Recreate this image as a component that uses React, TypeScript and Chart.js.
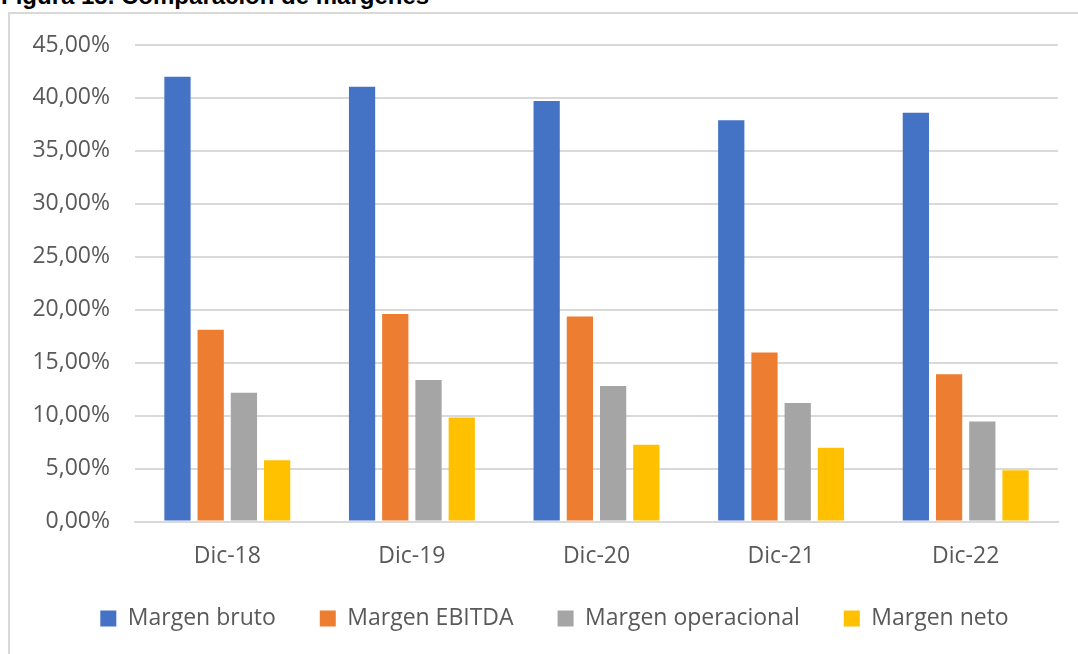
import React, { useEffect, useRef } from "react";
import { Chart, registerables } from "chart.js";

Chart.register(...registerables);

const categories = ["Dic-18", "Dic-19", "Dic-20", "Dic-21", "Dic-22"];
const margenBruto = [42.0, 41.05, 39.7, 37.9, 38.6];
const margenEbitda = [18.1, 19.6, 19.35, 15.95, 13.9];
const margenOperacional = [12.15, 13.37, 12.8, 11.2, 9.45];
const margenNeto = [5.78, 9.83, 7.25, 6.97, 4.84];
const seriesNames = ["Margen bruto", "Margen EBITDA", "Margen operacional", "Margen neto"];
const seriesColors = ["#4472C4", "#ED7D31", "#A5A5A5", "#FFC000"];
const yMax = 45;
const yStep = 5;
const titleText = "Figura 15. Comparación de márgenes";

const CW = 1089;
const CH = 660;

const legendShift = {
  id: "legendShift",
  afterLayout(chart: any) {
    const lg = chart.legend;
    if (lg) {
      lg.left += 20.5;
      lg.right += 20.5;
    }
  },
};

export default function App() {
  const ref = useRef<HTMLCanvasElement | null>(null);

  useEffect(() => {
    if (!ref.current) return;
    const font = { family: "'Open Sans', sans-serif", size: 23 };
    const seriesData = [margenBruto, margenEbitda, margenOperacional, margenNeto];
    const chart = new Chart(ref.current, {
      type: "bar",
      data: {
        labels: categories,
        datasets: seriesData.map((d, i) => ({
          label: seriesNames[i],
          data: d,
          backgroundColor: seriesColors[i],
          borderWidth: 0,
          categoryPercentage: 0.72,
          barPercentage: 0.79,
        })),
      },
      plugins: [legendShift],
      options: {
        responsive: false,
        animation: false,
        layout: { padding: { top: 31, left: 0, right: 41, bottom: 34 } },
        plugins: {
          legend: {
            position: "bottom",
            labels: {
              font,
              color: "#595959",
              boxWidth: 16,
              boxHeight: 16,
              padding: 44,
            },
          },
          tooltip: { enabled: false },
        },
        scales: {
          x: {
            grid: { display: false, drawTicks: false },
            border: { display: true, color: "#d9d9d9", width: 2 },
            ticks: { font, color: "#595959", padding: 21.5 },
            afterFit: (s: any) => {
              s.height = 41.5;
            },
          },
          y: {
            min: 0,
            max: yMax,
            grid: { color: "#d9d9d9", lineWidth: 2, drawTicks: false },
            border: { display: false },
            ticks: {
              stepSize: yStep,
              font,
              color: "#595959",
              padding: 25,
              callback: (v: any) => Number(v).toFixed(2).replace(".", ",") + "%",
            },
            afterFit: (s: any) => {
              s.width = 125;
              s.paddingTop = 0;
              s.paddingBottom = 0;
            },
          },
        },
      },
    });
    return () => chart.destroy();
  }, []);

  return (
    <div
      style={{
        position: "fixed",
        left: 0,
        top: 0,
        width: 1078,
        height: 654,
        overflow: "hidden",
        background: "#fff",
      }}
    >
      <div
        style={{
          position: "absolute",
          left: 1,
          top: -16,
          fontFamily: "'Liberation Sans', Arial, sans-serif",
          fontWeight: "bold",
          fontSize: 24,
          lineHeight: "24px",
          whiteSpace: "nowrap",
          color: "#000",
        }}
      >
        {titleText}
      </div>
      <div
        style={{
          position: "absolute",
          left: 8,
          top: 12,
          width: CW,
          height: CH,
          border: "2px solid #d9d9d9",
          background: "#fff",
        }}
      >
        <canvas
          ref={ref}
          width={CW}
          height={CH}
          style={{ display: "block", width: CW, height: CH }}
        />
      </div>
    </div>
  );
}
